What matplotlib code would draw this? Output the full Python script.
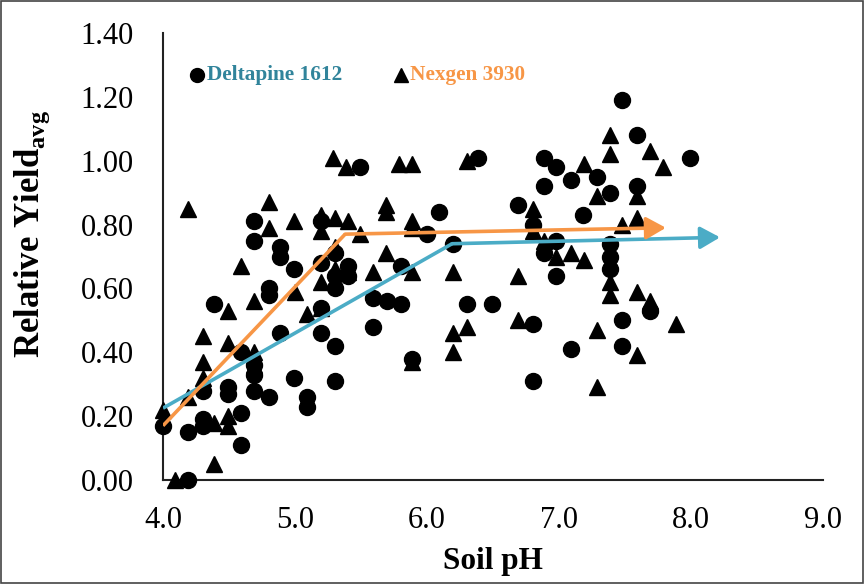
import matplotlib
matplotlib.use("Agg")
import matplotlib.pyplot as plt
from matplotlib.patches import Rectangle

plt.rcParams['font.family'] = ['Liberation Serif', 'DejaVu Serif']
plt.rcParams['mathtext.fontset'] = 'custom'
plt.rcParams['mathtext.rm'] = 'Liberation Serif'
plt.rcParams['mathtext.bf'] = 'Liberation Serif:bold'

# Deltapine 1612 (circles)
dp_ph = [4.0, 4.19, 4.19, 4.3, 4.3, 4.3, 4.39, 4.49, 4.49, 4.59, 4.59, 4.59,
         4.69, 4.69, 4.69, 4.69, 4.69, 4.8, 4.8, 4.8, 4.89, 4.89, 4.89, 4.99, 4.99,
         5.09, 5.09, 5.2, 5.2, 5.2, 5.2, 5.3, 5.3, 5.3, 5.3, 5.3, 5.4, 5.4, 5.49,
         5.59, 5.59, 5.7, 5.8, 5.8, 5.89, 6.0, 6.09, 6.2, 6.39, 6.3, 6.49,
         6.69, 6.8, 6.8, 6.8, 6.89, 6.89, 6.89, 6.98, 6.98, 6.98, 7.09, 7.09,
         7.18, 7.29, 7.39, 7.39, 7.39, 7.39, 7.48, 7.48, 7.48, 7.59, 7.59, 7.69, 7.99]
dp_yield = [0.17, 0.15, 0.00, 0.19, 0.17, 0.28, 0.55, 0.29, 0.27, 0.40, 0.21, 0.11,
            0.81, 0.75, 0.36, 0.33, 0.28, 0.60, 0.58, 0.26, 0.73, 0.70, 0.46, 0.66, 0.32,
            0.26, 0.23, 0.81, 0.68, 0.54, 0.46, 0.71, 0.64, 0.60, 0.42, 0.31, 0.67, 0.64, 0.98,
            0.57, 0.48, 0.56, 0.67, 0.55, 0.38, 0.77, 0.84, 0.74, 1.01, 0.55, 0.55,
            0.86, 0.80, 0.49, 0.31, 1.01, 0.92, 0.71, 0.98, 0.75, 0.64, 0.94, 0.41,
            0.83, 0.95, 0.90, 0.74, 0.70, 0.66, 1.19, 0.50, 0.42, 1.08, 0.92, 0.53, 1.01]

# Nexgen 3930 (triangles)
nx_ph = [4.0, 4.09, 4.19, 4.19, 4.3, 4.3, 4.3, 4.39, 4.39, 4.49, 4.49, 4.49, 4.49,
         4.59, 4.69, 4.69, 4.69, 4.8, 4.8, 4.99, 5.0, 5.09, 5.2, 5.2, 5.2, 5.2,
         5.29, 5.3, 5.3, 5.3, 5.39, 5.4, 5.4, 5.49, 5.59, 5.69, 5.69, 5.69,
         5.79, 5.89, 5.89, 5.89, 5.89, 5.89, 6.2, 6.2, 6.2, 6.3, 6.3, 6.69, 6.69,
         6.8, 6.8, 6.89, 6.98, 7.09, 7.19, 7.19, 7.29, 7.29, 7.29, 7.39, 7.39, 7.39,
         7.39, 7.48, 7.59, 7.59, 7.59, 7.59, 7.69, 7.69, 7.79, 7.89]
nx_yield = [0.22, 0.00, 0.85, 0.26, 0.45, 0.37, 0.32, 0.18, 0.05, 0.53, 0.43, 0.20, 0.17,
            0.67, 0.56, 0.40, 0.36, 0.87, 0.79, 0.81, 0.59, 0.52, 0.83, 0.78, 0.62, 0.54,
            1.01, 0.82, 0.73, 0.66, 0.98, 0.81, 0.65, 0.77, 0.65, 0.86, 0.84, 0.71,
            0.99, 0.99, 0.81, 0.79, 0.65, 0.37, 0.65, 0.46, 0.40, 1.00, 0.48, 0.64, 0.50,
            0.85, 0.78, 0.75, 0.70, 0.71, 0.99, 0.69, 0.89, 0.47, 0.29, 1.08, 1.02, 0.62,
            0.58, 0.80, 0.89, 0.82, 0.59, 0.39, 1.03, 0.56, 0.98, 0.49]

# linear-plateau trend lines (vertices, last segment drawn as arrow)
dp_line_x = [4.0, 6.19, 8.22]
dp_line_y = [0.225, 0.74, 0.76]
nx_line_x = [4.0, 5.38, 7.81]
nx_line_y = [0.17, 0.77, 0.79]

blue = '#4BACC6'
blue_text = '#31849B'
orange = '#F79646'

fig = plt.figure(figsize=(8.64, 5.84), dpi=100)
ax = fig.add_axes([163 / 864, 1 - 480 / 584, 660 / 864, 447 / 584])

ax.plot(dp_ph, dp_yield, 'o', color='black', markersize=11.5, clip_on=False, zorder=3)
ax.plot(nx_ph, nx_yield, '^', color='black', markersize=11.5, clip_on=False, zorder=3)

for lx, ly, c in [(dp_line_x, dp_line_y, blue), (nx_line_x, nx_line_y, orange)]:
    ax.plot(lx[:2], ly[:2], color=c, lw=2.6, solid_capstyle='butt', zorder=4)
    ax.annotate('', xy=(lx[2], ly[2]), xytext=(lx[1], ly[1]),
                arrowprops=dict(arrowstyle='-|>,head_length=0.8,head_width=0.45',
                                color=c, lw=2.6, shrinkA=0, shrinkB=0,
                                mutation_scale=15),
                zorder=4)

ax.set_xlim(4, 9)
ax.set_ylim(0, 1.4)
ax.set_xticks([4, 5, 6, 7, 8, 9])
ax.set_xticklabels(['4.0', '5.0', '6.0', '7.0', '8.0', '9.0'])
ax.set_yticks([0, 0.2, 0.4, 0.6, 0.8, 1.0, 1.2, 1.4])
ax.set_yticklabels(['0.00', '0.20', '0.40', '0.60', '0.80', '1.00', '1.20', '1.40'])
ax.tick_params(axis='both', length=0, labelsize=22)
ax.tick_params(axis='x', pad=19)
ax.tick_params(axis='y', pad=21)
for s in ['top', 'right']:
    ax.spines[s].set_visible(False)
for s in ['left', 'bottom']:
    ax.spines[s].set_linewidth(1.5)
    ax.spines[s].set_color('#222222')

ax.set_xlabel('Soil pH', fontsize=22.5, fontweight='bold')
ax.xaxis.set_label_coords(0.5, -0.149)
ax.set_ylabel(r'Relative Yield$_{\mathbf{avg}}$', fontsize=25, fontweight='bold')
ax.yaxis.set_label_coords(-0.168, 0.55)

# legend drawn by hand
ax.plot([0.0515], [0.906], 'o', color='black', markersize=10, transform=ax.transAxes, clip_on=False)
ax.text(0.066, 0.906, 'Deltapine 1612', color=blue_text, fontsize=15.3, fontweight='bold',
        va='center', ha='left', transform=ax.transAxes)
ax.plot([0.36], [0.906], '^', color='black', markersize=10, transform=ax.transAxes, clip_on=False)
ax.text(0.374, 0.906, 'Nexgen 3930', color=orange, fontsize=15.3, fontweight='bold',
        va='center', ha='left', transform=ax.transAxes)

fig.patches.append(Rectangle((0.001, 0.001), 0.998, 0.998, transform=fig.transFigure,
                             fill=False, edgecolor='#444444', lw=1.2))

fig.savefig('out.png', dpi=100)
